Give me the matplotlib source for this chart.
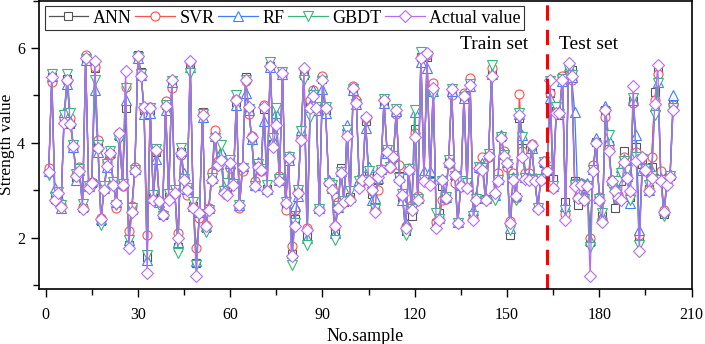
import matplotlib
matplotlib.use("Agg")
import matplotlib.pyplot as plt
from matplotlib.ticker import MultipleLocator

actual = [3.38, 5.38, 2.80, 2.95, 2.65, 4.41, 5.33, 4.40, 3.94, 3.30,
          3.40, 2.60, 5.78, 3.05, 3.15, 5.73, 3.90, 2.39, 3.00, 3.52,
          3.78, 3.12, 2.73, 4.20, 3.12, 5.52, 1.78, 2.55, 3.40, 5.82,
          5.40, 4.76, 1.26, 4.73, 2.80, 3.85, 2.77, 2.48, 4.78, 2.80,
          5.33, 2.94, 1.99, 3.78, 3.22, 3.00, 5.73, 2.62, 1.19, 2.52,
          4.59, 2.24, 2.59, 3.22, 4.13, 3.54, 3.64, 2.94, 2.90, 3.57,
          3.12, 4.90, 2.69, 3.50, 5.33, 4.76, 4.13, 3.08, 3.50, 3.43,
          4.76, 2.98, 5.61, 3.92, 4.38, 3.19, 5.48, 2.73, 3.68, 1.61,
          2.24, 2.94, 4.06, 5.57, 2.17, 4.73, 4.98, 4.73, 2.59, 5.33,
          4.73, 3.15, 3.01, 2.24, 2.62, 3.36, 2.76, 4.15, 2.80, 5.15,
          4.84, 3.05, 3.22, 4.55, 3.19, 3.00, 2.55, 3.29, 3.40, 4.90,
          3.80, 3.50, 3.70, 4.70, 3.22, 2.90, 2.20, 3.43, 2.59, 4.13,
          2.80, 5.78, 3.19, 5.89, 3.12, 5.15, 2.20, 2.38, 3.22, 2.84,
          3.57, 5.13, 3.33, 2.31, 3.08, 4.98, 3.05, 5.22, 2.38, 2.80,
          3.47, 3.43, 2.80, 3.73, 5.40, 2.95, 3.19, 4.10, 3.73, 3.57,
          2.31, 3.22, 2.87, 4.59, 3.71, 3.24, 3.22, 3.96, 3.20, 2.60,
          3.22, 3.60, 3.40, 5.33, 3.05, 4.62, 4.62, 5.33, 2.38, 5.68,
          5.40, 3.08, 2.84, 3.12, 2.80, 3.08, 1.19, 3.40, 3.99, 2.80,
          2.34, 4.69, 3.82, 3.19, 2.98, 2.84, 2.80, 3.60, 3.26, 2.99,
          5.19, 3.61, 1.71, 3.70, 3.43, 2.98, 3.26, 4.82, 5.64, 3.19,
          2.55, 3.12, 3.29, 4.70]

ann = [3.38, 5.38, 2.82, 2.92, 2.68, 4.50, 5.35, 4.40, 3.94, 3.28,
       3.42, 2.62, 5.76, 3.08, 3.15, 5.57, 3.92, 2.35, 3.02, 3.55,
       3.76, 3.14, 2.70, 4.15, 3.13, 4.73, 1.85, 2.58, 3.42, 5.85,
       5.50, 4.70, 1.60, 4.70, 2.84, 3.80, 2.74, 2.48, 4.80, 2.85,
       5.28, 2.96, 1.80, 3.80, 3.25, 2.98, 5.65, 2.66, 1.47, 2.50,
       4.66, 2.20, 2.60, 3.28, 4.18, 3.56, 3.70, 3.00, 2.96, 3.55,
       3.15, 4.86, 2.66, 3.46, 5.38, 4.70, 4.10, 3.10, 3.52, 3.45,
       4.72, 3.02, 5.62, 3.98, 4.50, 3.22, 5.47, 2.70, 3.66, 1.66,
       2.40, 2.96, 4.15, 5.43, 2.05, 4.78, 5.02, 4.72, 2.60, 5.35,
       4.70, 3.18, 3.05, 2.10, 2.66, 3.47, 2.76, 4.25, 2.86, 5.15,
       4.86, 3.10, 3.22, 4.45, 3.30, 2.92, 2.62, 3.22, 3.42, 4.88,
       3.80, 3.52, 3.68, 4.66, 3.30, 2.86, 2.15, 3.45, 2.45, 4.30,
       2.82, 5.80, 3.25, 5.80, 3.20, 5.18, 2.30, 2.52, 3.10, 2.86,
       3.60, 5.10, 3.28, 2.33, 3.12, 4.96, 3.08, 5.26, 2.46, 2.82,
       3.48, 3.50, 2.82, 3.75, 5.48, 2.90, 3.25, 4.12, 3.76, 3.55,
       2.06, 3.25, 2.85, 4.52, 3.90, 3.28, 3.28, 3.92, 3.22, 2.65,
       3.25, 3.58, 3.42, 5.05, 3.24, 4.68, 4.58, 5.38, 2.76, 5.50,
       5.54, 3.20, 2.70, 3.10, 2.82, 3.12, 1.90, 3.45, 4.02, 2.82,
       2.45, 4.70, 3.95, 3.20, 2.62, 2.86, 3.20, 3.83, 3.30, 2.85,
       4.88, 3.92, 1.99, 3.55, 3.40, 3.02, 3.50, 5.08, 5.50, 3.28,
       2.50, 3.18, 3.30, 4.82]

svr = [3.47, 5.29, 2.80, 2.95, 2.70, 4.52, 5.30, 4.52, 3.90, 3.32,
       3.50, 2.64, 5.85, 3.12, 3.18, 5.60, 4.06, 2.42, 3.06, 3.60,
       3.75, 3.15, 2.62, 4.20, 3.10, 5.17, 2.15, 2.66, 3.50, 5.80,
       5.42, 4.72, 2.06, 4.75, 2.82, 3.82, 2.75, 2.50, 4.89, 2.82,
       5.15, 2.96, 2.10, 3.75, 3.25, 2.90, 5.70, 2.65, 1.78, 2.41,
       4.62, 2.26, 2.62, 3.38, 4.27, 3.61, 3.70, 2.98, 2.92, 3.47,
       3.14, 4.92, 2.62, 3.40, 5.30, 4.60, 4.15, 3.19, 3.52, 3.40,
       4.80, 3.00, 5.63, 3.95, 4.45, 3.31, 5.43, 2.59, 3.72, 1.82,
       2.59, 2.96, 4.12, 5.55, 2.20, 4.90, 5.12, 4.70, 2.62, 5.40,
       4.75, 3.18, 3.04, 2.25, 2.76, 3.38, 2.76, 4.20, 2.82, 5.19,
       4.90, 3.08, 3.19, 4.52, 3.25, 2.98, 2.58, 3.01, 3.45, 4.92,
       3.82, 3.48, 3.66, 4.60, 3.54, 2.88, 2.25, 3.47, 2.70, 4.20,
       2.87, 5.80, 3.24, 5.85, 3.18, 5.27, 2.34, 2.42, 2.80, 2.82,
       3.55, 5.00, 3.15, 2.30, 3.12, 5.05, 3.08, 5.36, 2.42, 2.84,
       3.45, 3.71, 2.82, 3.70, 5.57, 2.92, 3.36, 4.15, 3.82, 3.50,
       2.35, 3.36, 2.84, 5.02, 3.82, 3.36, 3.36, 3.98, 3.25, 2.62,
       3.22, 3.62, 3.45, 5.05, 3.05, 4.66, 4.62, 5.41, 2.50, 5.40,
       5.33, 3.15, 2.86, 3.15, 2.85, 3.12, 2.00, 3.54, 4.02, 2.85,
       2.40, 4.55, 3.90, 3.22, 3.00, 2.90, 3.30, 3.71, 3.32, 2.90,
       4.84, 3.80, 2.05, 3.70, 3.47, 3.02, 3.71, 4.90, 5.45, 3.40,
       2.58, 3.18, 3.32, 4.80]

rf = [3.40, 5.41, 3.05, 2.90, 2.62, 4.66, 5.25, 4.45, 3.92, 3.22,
      3.42, 2.66, 5.75, 3.08, 3.20, 5.12, 3.80, 2.40, 3.04, 3.50,
      3.80, 3.16, 2.75, 4.18, 3.15, 4.90, 1.95, 2.60, 3.44, 5.78,
      5.43, 4.60, 1.54, 4.62, 2.84, 3.66, 2.75, 2.52, 4.70, 2.86,
      5.28, 2.98, 1.90, 3.82, 3.36, 3.02, 5.60, 2.66, 1.50, 2.55,
      4.55, 2.25, 2.62, 3.25, 4.15, 3.55, 3.82, 3.08, 2.98, 3.58,
      3.19, 4.80, 2.70, 3.52, 5.06, 4.70, 4.08, 3.12, 3.60, 3.46,
      4.45, 3.02, 5.60, 4.06, 4.62, 3.22, 5.45, 2.80, 3.64, 1.68,
      2.66, 2.87, 4.27, 5.50, 1.99, 4.80, 5.12, 4.70, 2.62, 5.13,
      4.62, 3.22, 3.05, 2.10, 2.65, 3.40, 2.80, 4.38, 2.86, 5.12,
      4.82, 3.22, 3.25, 4.31, 3.50, 2.80, 2.83, 3.25, 3.44, 4.85,
      3.78, 3.55, 3.72, 4.68, 3.28, 2.80, 2.30, 3.45, 2.62, 4.66,
      2.84, 5.70, 3.40, 5.57, 3.40, 5.10, 2.28, 2.42, 3.24, 2.86,
      3.60, 5.10, 3.35, 2.34, 3.12, 4.94, 3.10, 5.20, 2.59, 2.87,
      3.50, 3.57, 2.84, 3.77, 5.45, 2.90, 3.24, 4.17, 3.76, 3.60,
      2.20, 3.29, 2.90, 4.60, 4.17, 3.28, 3.25, 3.90, 3.24, 2.66,
      3.26, 3.62, 3.45, 4.94, 3.10, 4.69, 4.64, 5.30, 2.66, 5.62,
      5.38, 4.65, 2.88, 3.15, 2.84, 3.15, 1.96, 3.45, 4.10, 2.84,
      2.45, 4.78, 4.06, 3.22, 3.10, 2.88, 3.50, 3.65, 3.30, 2.73,
      4.90, 4.17, 2.17, 3.43, 3.46, 3.00, 3.40, 4.78, 5.29, 3.25,
      2.58, 3.22, 3.35, 5.00]

gbdt = [3.33, 5.45, 2.85, 2.96, 2.70, 4.58, 5.45, 4.62, 3.96, 3.34,
        3.44, 2.71, 5.76, 3.10, 3.12, 5.33, 3.95, 2.27, 3.10, 3.55,
        3.82, 3.17, 2.70, 4.07, 3.14, 5.15, 1.95, 2.62, 3.42, 5.80,
        5.45, 4.74, 1.64, 4.74, 2.90, 3.88, 2.70, 2.46, 4.80, 2.93,
        5.30, 3.00, 1.68, 3.89, 3.24, 3.04, 5.47, 2.76, 1.43, 2.50,
        4.60, 2.13, 2.58, 3.26, 4.10, 3.52, 3.96, 2.98, 3.15, 3.64,
        3.14, 5.00, 2.68, 3.48, 5.32, 4.72, 4.03, 3.10, 3.55, 3.44,
        4.72, 3.12, 5.70, 4.10, 4.73, 3.24, 5.50, 2.75, 3.70, 1.43,
        2.30, 3.01, 4.24, 5.33, 1.85, 4.55, 5.00, 4.75, 2.60, 5.30,
        4.76, 3.16, 3.12, 1.96, 2.66, 3.38, 2.78, 4.27, 2.98, 5.14,
        4.82, 3.19, 3.22, 4.48, 3.40, 2.96, 2.60, 3.22, 3.42, 4.92,
        3.84, 3.50, 3.72, 4.72, 3.25, 2.92, 2.06, 3.44, 2.60, 4.70,
        2.82, 5.92, 3.22, 5.84, 3.16, 5.00, 2.52, 2.40, 3.19, 2.85,
        3.64, 5.14, 3.30, 2.32, 3.19, 4.96, 3.15, 5.24, 2.45, 2.82,
        3.50, 3.46, 2.78, 3.76, 5.64, 2.80, 3.22, 4.12, 3.74, 3.56,
        2.17, 3.24, 2.80, 4.62, 4.13, 3.26, 3.24, 3.85, 3.22, 2.62,
        3.24, 3.60, 3.42, 5.30, 3.08, 4.76, 4.60, 5.35, 2.59, 5.54,
        5.42, 3.12, 2.94, 3.12, 2.82, 3.10, 1.80, 3.42, 3.96, 2.82,
        2.52, 4.66, 4.17, 3.05, 2.96, 3.19, 3.36, 3.62, 3.43, 2.80,
        4.94, 3.70, 1.85, 3.65, 3.45, 3.12, 3.30, 4.59, 5.26, 3.22,
        2.45, 3.14, 3.30, 4.73]

samples = list(range(1, len(actual) + 1))
split_at = 163


def main():
    plt.rcParams["font.family"] = "Liberation Serif"

    fig = plt.figure(figsize=(7.05, 3.44), dpi=100)
    ax = fig.add_axes([0.056, 0.160, 0.925, 0.8385])

    series = [
        (ann, "ANN", "#555555", "s", 5.5),
        (svr, "SVR", "#ff5050", "o", 6.5),
        (rf, "RF", "#3f7fff", "^", 6.5),
        (gbdt, "GBDT", "#35b878", "v", 6.5),
        (actual, "Actual value", "#b56cf5", "D", 6),
    ]
    for ys, name, col, mk, ms in series:
        ax.plot(samples, ys, color=col, lw=0.9, marker=mk, ms=ms,
                mfc="white", mec=col, mew=0.8, label=name)

    ax.axvline(split_at, color="red", lw=2.2, ls=(0, (5, 3)))
    ax.text(145.7, 6.08, "Train set", fontsize=14, ha="center", va="center")
    ax.text(176.5, 6.08, "Test set", fontsize=14, ha="center", va="center")

    ax.set_xlim(-2, 210)
    ax.set_ylim(0.92, 7.0)
    ax.xaxis.set_major_locator(MultipleLocator(30))
    ax.xaxis.set_minor_locator(MultipleLocator(15))
    ax.yaxis.set_major_locator(MultipleLocator(2))
    ax.yaxis.set_minor_locator(MultipleLocator(1))
    ax.tick_params(which="both", direction="out", labelsize=11.5, width=1)
    ax.tick_params(which="major", length=6)
    ax.tick_params(which="minor", length=4)
    ax.tick_params(axis="x", pad=7)
    ax.tick_params(axis="y", pad=4.5)
    for sp in ax.spines.values():
        sp.set_linewidth(1.2)

    ax.set_xlabel("No.sample", fontsize=13)
    ax.set_ylabel("Strength value", fontsize=12.5)
    ax.xaxis.set_label_coords(0.5, -0.135)
    ax.yaxis.set_label_coords(-0.037, 0.5)

    leg = ax.legend(loc="upper left", ncol=5, fontsize=13, frameon=True, fancybox=False,
                    edgecolor="black", handlelength=2.2, handletextpad=0.25,
                    columnspacing=0.2, borderpad=0.2, borderaxespad=0.3)
    leg.get_frame().set_linewidth(0.8)

    fig.savefig("out.png", dpi=100)


if __name__ == '__main__':
    main()
